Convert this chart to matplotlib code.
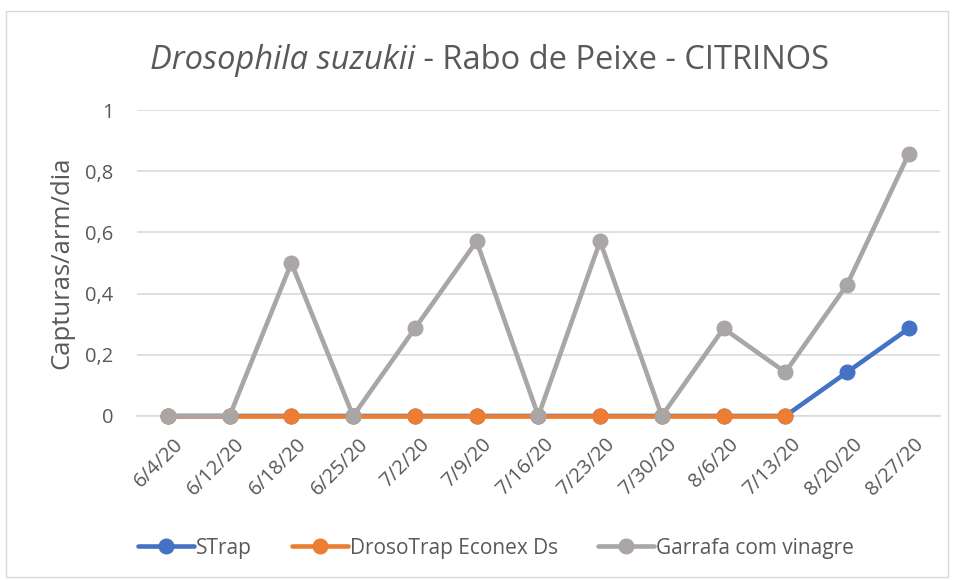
import numpy as np
import matplotlib
matplotlib.use('agg')
import matplotlib.pyplot as plt
import matplotlib.transforms as mtransforms

plt.rcParams['font.family'] = ['Open Sans', 'DejaVu Sans']

dates = ['6/4/20', '6/12/20', '6/18/20', '6/25/20', '7/2/20', '7/9/20', '7/16/20',
         '7/23/20', '7/30/20', '8/6/20', '7/13/20', '8/20/20', '8/27/20']
strap = [0, 0, 0, 0, 0, 0, 0, 0, 0, 0, 0, 0.143, 0.286]
drosotrap = [0, 0, 0, 0, 0, 0, 0, 0, 0, 0, 0, np.nan, np.nan]
garrafa = [0, 0, 0.5, 0, 0.286, 0.571, 0, 0.571, 0, 0.286, 0.143, 0.429, 0.857]

series = [
    ('STrap', strap, '#4472C4'),
    ('DrosoTrap Econex Ds', drosotrap, '#ED7D31'),
    ('Garrafa com vinagre', garrafa, '#A9A6A5'),
]

txt = '#595959'

fig = plt.figure(figsize=(9.54, 5.80), dpi=100)
ax = fig.add_axes([0.1436, 0.2828, 0.8414, 0.5275])

x = np.arange(len(dates))
for i, (name, vals, col) in enumerate(series):
    ax.plot(x, vals, color=col, lw=3.3, marker='o', ms=10.5, label=name,
            solid_capstyle='round', clip_on=False, zorder=3 + i)

ax.set_xlim(-0.5, len(dates) - 0.5)
ax.set_ylim(0, 1)
ax.set_yticks(np.arange(0, 1.01, 0.2))
ax.set_yticklabels(['0', '0,2', '0,4', '0,6', '0,8', '1'])
ax.set_xticks(x)
ax.set_xticklabels(dates, rotation=45, ha='right', rotation_mode='anchor')
ax.tick_params(axis='both', length=0, colors=txt, labelsize=14.5)
ax.tick_params(axis='x', pad=13)
ax.tick_params(axis='y', pad=17)
# nudge the slanted date labels a bit to the right like excel does
off = mtransforms.ScaledTranslation(5 / 100, 0, fig.dpi_scale_trans)
for lab in ax.get_xticklabels():
    lab.set_transform(lab.get_transform() + off)
ax.grid(axis='y', color='#D9D9D9', lw=1.2)
ax.set_axisbelow(True)
for s in ['top', 'right', 'left']:
    ax.spines[s].set_visible(False)
ax.spines['bottom'].set_color('#D9D9D9')
ax.spines['bottom'].set_linewidth(1.2)

ax.set_ylabel('Capturas/arm/dia', fontsize=18.5, color=txt, labelpad=8)

# title: italic species name + plain rest, centred as one line
t1 = fig.text(0, 0.895, 'Drosophila suzukii', style='italic', fontsize=23.5,
              color=txt, va='center', ha='left')
t2 = fig.text(0, 0.895, ' - Rabo de Peixe - CITRINOS', fontsize=23.5,
              color=txt, va='center', ha='left')
fig.canvas.draw()
w1 = t1.get_window_extent().width / fig.bbox.width
w2 = t2.get_window_extent().width / fig.bbox.width
x0 = 0.513 - (w1 + w2) / 2
t1.set_x(x0)
t2.set_x(x0 + w1)

fig.legend(loc='center', bbox_to_anchor=(0.52, 0.055), ncol=3, frameon=False,
           fontsize=15, labelcolor=txt, handlelength=2.7, handletextpad=0.1,
           columnspacing=1.9)

fig.patches.append(plt.Rectangle((0.006, 0.006), 0.988, 0.975, transform=fig.transFigure,
                                 fill=False, ec='#D9D9D9', lw=1))

fig.savefig('out.png', dpi=100)
